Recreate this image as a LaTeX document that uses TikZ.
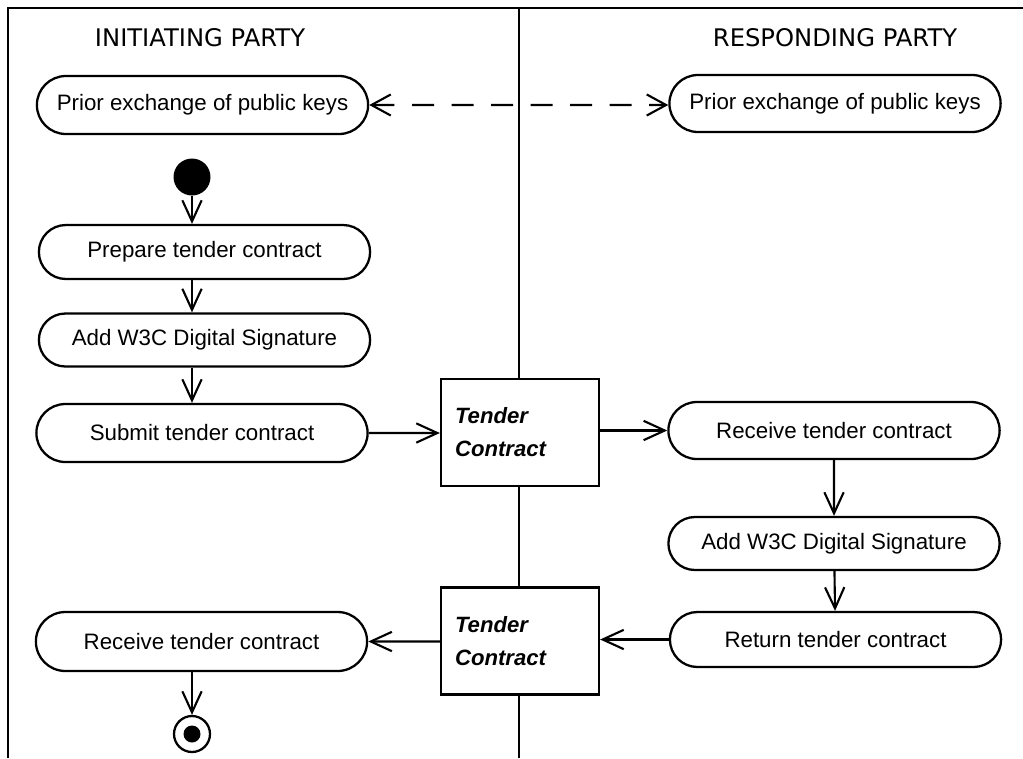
\documentclass[tikz,border=0pt]{standalone}
\usepackage{fontspec}
\setmainfont{Liberation Sans}
\newfontfamily\headfont{DejaVu Sans}
\usepackage{tikz}
\usetikzlibrary{shapes.misc, arrows.meta, positioning}

\begin{document}
\begin{tikzpicture}[x=0.02cm, y=-0.02cm,
    act/.style={draw, line width=1.3pt, rounded rectangle, fill=white,
        minimum width=6.86cm, font=\fontsize{12.7}{15}\selectfont},
    obj/.style={draw, line width=1.3pt, fill=white, minimum width=3.16cm,
        minimum height=2.14cm, text width=2.6cm, inner xsep=0.28cm, align=left,
        font=\fontsize{12.6}{18.8}\selectfont\bfseries\itshape},
    flow/.style={line width=1.2pt, -{Straight Barb[length=12pt, width=11pt, line width=1.2pt]}},
    lane/.style={line width=1.6pt}]
    \useasboundingbox (0,0) rectangle (1023,758);

    % swimlanes
    \draw[lane] (8,758) -- (8,8) -- (1023,8);
    \draw[lane] (519,8) -- (519,758);
    \node[font=\headfont\fontsize{13.8}{16}\selectfont] (headL) at (200,38) {INITIATING PARTY};
    \node[font=\headfont\fontsize{13.8}{16}\selectfont] (headR) at (835,38) {RESPONDING PARTY};

    % initiating party
    \node[act, minimum height=1.16cm] (keysL) at (202.5,105) {Prior exchange of public keys};
    \node[circle, fill=black, minimum size=0.74cm, inner sep=0pt] (start) at (192,177) {};
    \node[act, minimum height=1.08cm] (prepare) at (204.5,252) {Prepare tender contract};
    \node[act, minimum height=1.06cm] (signL) at (204.5,340) {Add W3C Digital Signature};
    \node[act, minimum height=1.16cm] (submit) at (202,433) {Submit tender contract};
    \node[act, minimum height=1.18cm] (receiveL) at (201.5,641.5) {Receive tender contract};
    \node[circle, draw, line width=1.3pt, minimum size=0.72cm, inner sep=0pt] (final) at (192,734) {};
    \node[circle, fill=black, minimum size=0.34cm, inner sep=0pt] (finaldot) at (final) {};

    % objects
    \node[obj] (tender1) at (520,432.5) {Tender\\Contract};
    \node[obj] (tender2) at (520,641) {Tender\\Contract};

    % responding party
    \node[act, minimum height=1.14cm] (keysR) at (835,103.5) {Prior exchange of public keys};
    \node[act, minimum height=1.14cm] (receiveR) at (834,430.5) {Receive tender contract};
    \node[act, minimum height=1.06cm] (signR) at (834,543.5) {Add W3C Digital Signature};
    \node[act, minimum height=1.10cm] (return) at (835.5,639.5) {Return tender contract};

    % flows
    \draw[line width=1.2pt, dash pattern=on 12.5pt off 10pt,
        {Straight Barb[length=11pt, width=12pt, line width=1.2pt]}-{Straight Barb[length=11pt, width=12pt, line width=1.2pt]}]
        (keysL) -- (keysL -| keysR.west);
    \draw[flow] (start) -- (start |- prepare.north);
    \draw[flow] (prepare.south -| start) -- (signL.north -| start);
    \draw[flow] (signL.south -| start) -- (submit.north -| start);
    \draw[flow] (submit) -- (submit -| tender1.west);
    \draw[flow] (tender1.east |- receiveR) -- (receiveR);
    \draw[flow] (receiveR) -- (signR);
    \draw[flow] (signR) -- (return);
    \draw[flow] (return) -- (return -| tender2.east);
    \draw[flow] (tender2.west |- receiveL) -- (receiveL);
    \draw[flow] (receiveL.south -| final) -- (final);
\end{tikzpicture}
\end{document}
